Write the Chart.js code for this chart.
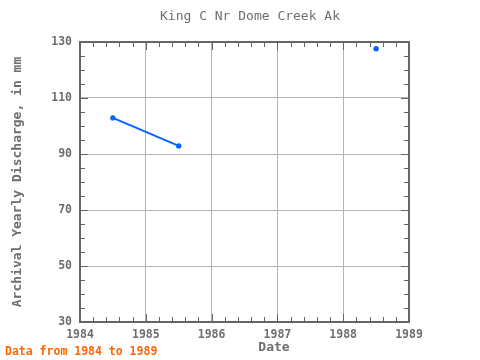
<!DOCTYPE html>
<html><head><meta charset="utf-8">
<script src="https://cdn.jsdelivr.net/npm/chart.js@4/dist/chart.umd.min.js"></script>
<style>html,body{margin:0;padding:0;background:#fff}#wrap{width:480px;height:360px}</style>
</head><body><div id="wrap"><canvas id="c" width="480" height="360"></canvas></div>
<script>
const titleText = "King C Nr Dome Creek Ak";
const yTitle = "Archival Yearly Discharge, in mm";
const xTitle = "Date";
const footerText = "Data from 1984 to 1989";
const years = [1984.5, 1985.5, 1986.5, 1987.5, 1988.5];
const discharge = [102.9, 92.9, null, null, 127.6];
const xTicks = [1984, 1985, 1986, 1987, 1988, 1989];
const yTicks = [30, 50, 70, 90, 110, 130];
const xMinorStep = 0.2;
const yMinorStep = 5;

const TXT = '#6e6e6e';
const FONT = "'DejaVu Sans Mono', monospace";

const frame = {
  id: 'frame',
  afterDatasetsDraw(chart) {
    const {ctx, chartArea: a, scales: {x, y}} = chart;
    ctx.save();
    ctx.strokeStyle = '#666';
    ctx.lineWidth = 1;
    ctx.beginPath();
    for (let v = x.min; v <= x.max + 1e-9; v += xMinorStep) {
      const px = Math.round(x.getPixelForValue(v)) + 0.5;
      const major = Math.abs(v - Math.round(v)) < 1e-6;
      const len = major ? 8 : 5;
      ctx.moveTo(px, a.bottom); ctx.lineTo(px, a.bottom - len);
      ctx.moveTo(px, a.top); ctx.lineTo(px, a.top + len);
    }
    for (let v = y.min; v <= y.max + 1e-9; v += yMinorStep) {
      const py = Math.round(y.getPixelForValue(v)) + 0.5;
      const major = yTicks.includes(Math.round(v));
      const len = major ? 8 : 5;
      ctx.moveTo(a.left, py); ctx.lineTo(a.left + len, py);
      ctx.moveTo(a.right, py); ctx.lineTo(a.right - len, py);
    }
    ctx.stroke();
    ctx.lineWidth = 2;
    ctx.strokeRect(a.left, a.top, a.right - a.left, a.bottom - a.top);
    // title, x-axis title and footer
    ctx.fillStyle = TXT;
    ctx.font = "13px " + FONT;
    ctx.textAlign = 'center'; ctx.textBaseline = 'middle';
    ctx.fillText(titleText, 250, 17);
    ctx.font = "bold 13px " + FONT;
    ctx.fillText(xTitle, 274, 348);
    ctx.fillStyle = '#ff6600';
    ctx.font = "bold 11.5px " + FONT;
    ctx.textAlign = 'left';
    ctx.fillText(footerText, 5, 352);
    ctx.restore();
  }
};

new Chart(document.getElementById('c'), {
  type: 'line',
  data: {
    datasets: [{
      data: years.map((yr, i) => ({x: yr, y: discharge[i]})),
      borderColor: '#0066ff',
      backgroundColor: '#0066ff',
      borderWidth: 2,
      pointRadius: 1.7,
      pointHoverRadius: 1.7,
      spanGaps: false,
      tension: 0
    }]
  },
  plugins: [frame],
  options: {
    responsive: false,
    animation: false,
    events: [],
    layout: {padding: {left: 0, top: 42, right: 71, bottom: 0}},
    plugins: {legend: {display: false}, tooltip: {enabled: false}, title: {display: false}},
    scales: {
      x: {
        type: 'linear', min: 1984, max: 1989,
        afterBuildTicks: s => { s.ticks = xTicks.map(v => ({value: v})); },
        afterFit: s => { s.height = 38; },
        grid: {color: '#b4b4b4', lineWidth: 1, drawTicks: false},
        border: {display: false},
        ticks: {color: TXT, font: {family: FONT, size: 11.5, weight: 'bold'}, padding: 6, maxRotation: 0,
                callback: v => String(v)},
        title: {display: false}
      },
      y: {
        type: 'linear', min: 30, max: 130,
        afterBuildTicks: s => { s.ticks = yTicks.map(v => ({value: v})); },
        afterFit: s => { s.width = 80; },
        grid: {color: '#b4b4b4', lineWidth: 1, drawTicks: false},
        border: {display: false},
        ticks: {color: TXT, font: {family: FONT, size: 11.5, weight: 'bold'}, padding: 8},
        title: {display: true, text: yTitle, color: TXT, font: {family: FONT, size: 13, weight: 'bold'}, padding: {top: 10, bottom: 0}}
      }
    }
  }
});
</script></body></html>
